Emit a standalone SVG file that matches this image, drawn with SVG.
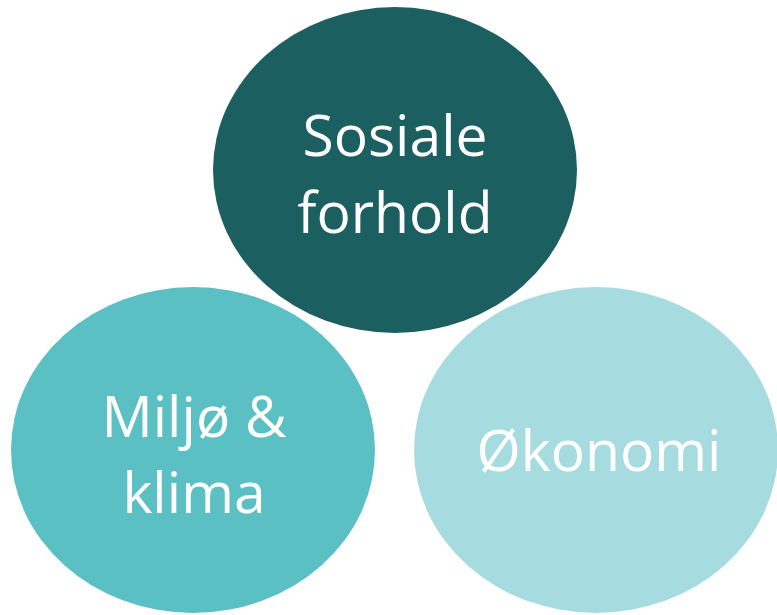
<svg xmlns="http://www.w3.org/2000/svg" width="777" height="615" viewBox="0 0 777 615">
<style>
.lbl{font-family:"Open Sans","Noto Sans","Liberation Sans",sans-serif;font-size:57px;fill:#ffffff;text-anchor:middle}
</style>
<rect width="777" height="615" fill="#ffffff"/>
<g id="connectors"></g>
<g id="node-sosiale">
<ellipse cx="395" cy="170" rx="182" ry="163" fill="#1c5f60"/>
<text class="lbl" x="395" y="156">Sosiale</text>
<text class="lbl" x="395" y="233">forhold</text>
</g>
<g id="node-miljo">
<ellipse cx="193" cy="450" rx="182" ry="163" fill="#5bc0c4"/>
<text class="lbl" x="194" y="437">Miljø &amp;</text>
<text class="lbl" x="194" y="513">klima</text>
</g>
<g id="node-okonomi">
<ellipse cx="596" cy="450" rx="182" ry="163" fill="#a6dcdf"/>
<text class="lbl" x="599" y="471">Økonomi</text>
</g>
</svg>
